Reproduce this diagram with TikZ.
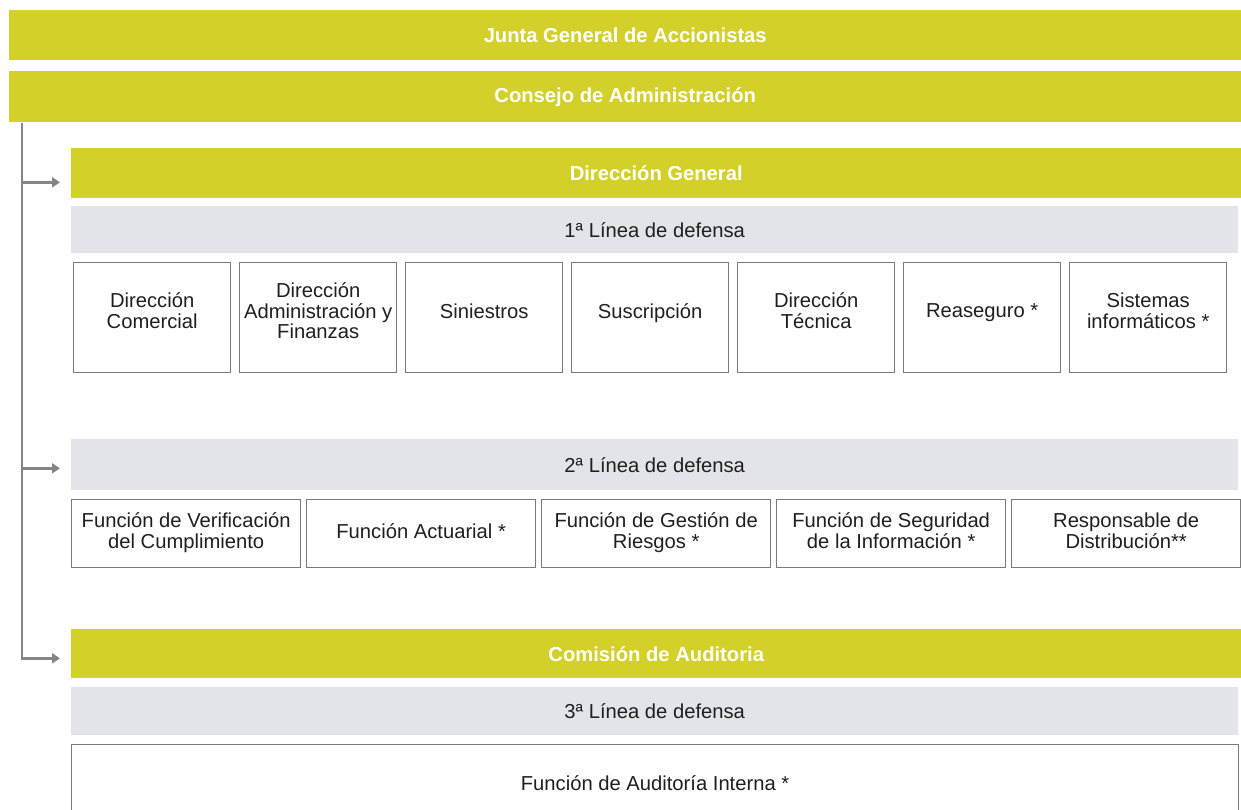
\documentclass[tikz,border=0pt]{standalone}
\usepackage{fontspec}
\setmainfont{Liberation Sans}
\usepackage{xcolor}
\usetikzlibrary{arrows.meta}

\definecolor{olivebar}{RGB}{212,208,42}
\definecolor{greybar}{RGB}{227,227,234}
\definecolor{boxline}{RGB}{122,122,122}
\definecolor{trunkgrey}{RGB}{133,133,133}
\definecolor{boxtext}{RGB}{31,31,31}

\tikzset{
  bar/.style={anchor=north west, fill=olivebar, text=white, inner sep=0pt,
    font=\fontsize{11.5}{11.6}\selectfont\bfseries},
  defline/.style={anchor=north west, fill=greybar, text=boxtext, inner sep=0pt,
    minimum width=23.34cm, font=\fontsize{11.5}{11.6}\selectfont},
  unitbox/.style={anchor=north west, draw=boxline, line width=0.8pt, fill=white,
    text=boxtext, align=center, inner sep=0pt,
    font=\fontsize{11.5}{11.6}\selectfont},
  trunk/.style={draw=trunkgrey, line width=1.7pt},
  >={Triangle[length=0.16cm,width=0.2cm]}
}

\begin{document}
\begin{tikzpicture}[x=0.02cm,y=-0.02cm]
\useasboundingbox (0,0) rectangle (1241,810);
\clip (0,0) rectangle (1241,810);

\node[bar, minimum width=24.64cm, minimum height=1.0cm]  (junta)    at (9,10)   {Junta General de Accionistas};
\node[bar, minimum width=24.64cm, minimum height=1.02cm] (consejo)  at (9,71)   {Consejo de Administración};
\node[bar, minimum width=23.4cm,  minimum height=1.0cm]  (dirgen)   at (71,148) {Dirección General};
\node[defline, minimum height=0.94cm] (linea1) at (71,206) {1ª Línea de defensa};

% primera linea
\foreach \t [count=\i from 0] in {{Dirección\\Comercial},
    {Dirección\\Administración y\\Finanzas}, Siniestros, Suscripción,
    {Dirección\\Técnica}, Reaseguro *, {Sistemas\\informáticos *}}
  \node[unitbox, minimum width=3.14cm, minimum height=2.2cm, text depth=0.28cm]
    (uno\i) at (73+166*\i,262) {\t};

\node[defline, minimum height=1.02cm] (linea2) at (71,439) {2ª Línea de defensa};

% segunda linea
\foreach \t [count=\i from 0] in {{Función de Verificación\\del Cumplimiento},
    Función Actuarial *, {Función de Gestión de\\Riesgos *},
    {Función de Seguridad\\de la Información *}, {Responsable de\\Distribución**}}
  \node[unitbox, minimum width=4.58cm, minimum height=1.36cm, text depth=0.12cm]
    (dos\i) at (71+235*\i,499) {\t};

\node[bar, minimum width=23.4cm, minimum height=0.98cm] (comision) at (71,629) {Comisión de Auditoria};
\node[defline, minimum height=0.96cm] (linea3) at (71,687) {3ª Línea de defensa};
\node[unitbox, minimum width=23.34cm, minimum height=1.52cm] (auditint) at (71,744) {Función de Auditoría Interna *};

% conectores
\coordinate (top) at ([xshift=0.26cm]consejo.south west);
\coordinate (a1) at ([yshift=-0.18cm]dirgen.west);
\coordinate (a2) at ([yshift=-0.07cm]linea2.west);
\coordinate (a3) at ([yshift=-0.09cm]comision.west);

\draw[trunk, ->, shorten >=0.22cm] (top) |- (a3);
\foreach \a in {a1,a2}
  \draw[trunk, ->, shorten >=0.22cm] (top |- \a) -- (\a);
\end{tikzpicture}
\end{document}
